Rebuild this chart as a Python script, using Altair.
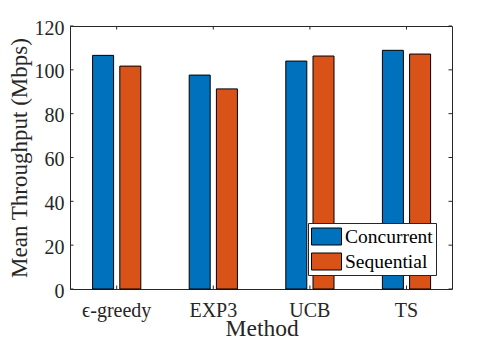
import altair as alt
import pandas as pd

methods = ["ϵ-greedy", "EXP3", "UCB", "TS"]
series = ["Concurrent", "Sequential"]
concurrent = [106.6, 97.6, 104.0, 108.9]
sequential = [101.7, 91.3, 106.3, 107.2]
y_ticks = [0, 20, 40, 60, 80, 100, 120]
colors = ["#0072BD", "#D95319"]

rows = []
for m, c, s in zip(methods, concurrent, sequential):
    rows.append({"Method": m, "Series": "Concurrent", "Value": c})
    rows.append({"Method": m, "Series": "Sequential", "Value": s})
df = pd.DataFrame(rows)
ticks_df = pd.DataFrame({"t": y_ticks})
meth_df = pd.DataFrame({"Method": methods})

W, H = 382, 263
FONT = "Liberation Serif"
AX = "#262626"
TL = 3.5

xscale = alt.Scale(domain=methods, paddingInner=0, paddingOuter=0, range=[-1.6, 384.8])
yscale = alt.Scale(domain=[0, 120], nice=False, zero=True)

xaxis = alt.Axis(title="Method", labelAngle=0, ticks=False, tickSize=0, domain=False,
                 grid=False, labelPadding=11, labelFont=FONT, labelFontSize=20,
                 labelColor=AX, titleFont=FONT, titleFontSize=23.5, titleColor=AX,
                 titleFontWeight="normal", titleBaseline="alphabetic", titleY=46.7)
yaxis = alt.Axis(title="Mean Throughput (Mbps)", values=y_ticks, ticks=False, tickSize=0,
                 domain=False, grid=False, labelPadding=6, labelBaseline="alphabetic",
                 labelOffset=8, labelFont=FONT, labelFontSize=20, labelColor=AX,
                 titleFont=FONT, titleFontSize=23, titleColor=AX,
                 titleFontWeight="normal", titleAngle=270, titleBaseline="alphabetic",
                 titleX=-44)

bars = alt.Chart(df).mark_bar(stroke="black", strokeWidth=1).encode(
    x=alt.X("Method:N", sort=methods, scale=xscale, axis=xaxis),
    xOffset=alt.XOffset("Series:N", sort=series,
                        scale=alt.Scale(paddingInner=0.228, paddingOuter=0.889)),
    y=alt.Y("Value:Q", scale=yscale, axis=yaxis),
    color=alt.Color("Series:N", scale=alt.Scale(domain=series, range=colors),
                    legend=alt.Legend(orient="none", legendX=238, legendY=197, title=None,
                                      symbolType="M-1,-0.85L2,-0.85L2,0.85L-1,0.85Z",
                                      symbolSize=400, symbolStrokeColor="black",
                                      symbolStrokeWidth=1, symbolOpacity=1,
                                      labelFont=FONT, labelFontSize=19.5, labelColor="black",
                                      labelOffset=13, padding=3, rowPadding=4,
                                      strokeColor=AX, fillColor="white", labelLimit=300,
                                      cornerRadius=0)),
)

left = alt.Chart(ticks_df).mark_rule(color=AX, strokeWidth=1).encode(
    y=alt.Y("t:Q", scale=yscale, axis=yaxis), x=alt.value(0), x2=alt.value(TL))
right = alt.Chart(ticks_df).mark_rule(color=AX, strokeWidth=1).encode(
    y=alt.Y("t:Q", scale=yscale, axis=yaxis), x=alt.value(W), x2=alt.value(W - TL))
bottom = alt.Chart(meth_df).mark_rule(color=AX, strokeWidth=1).encode(
    x=alt.X("Method:N", sort=methods, scale=xscale, axis=xaxis), y=alt.value(H), y2=alt.value(H - TL))
top = alt.Chart(meth_df).mark_rule(color=AX, strokeWidth=1).encode(
    x=alt.X("Method:N", sort=methods, scale=xscale, axis=xaxis), y=alt.value(0), y2=alt.value(TL))

chart = alt.layer(bars, left, right, bottom, top).properties(
    width=W, height=H,
    padding={"left": 62, "top": 18, "right": 40, "bottom": 56},
    autosize=alt.AutoSizeParams(type="none"),
).configure_view(stroke=AX, strokeWidth=1)

chart.save("out.html", embed_options={"renderer": "svg", "actions": False})
